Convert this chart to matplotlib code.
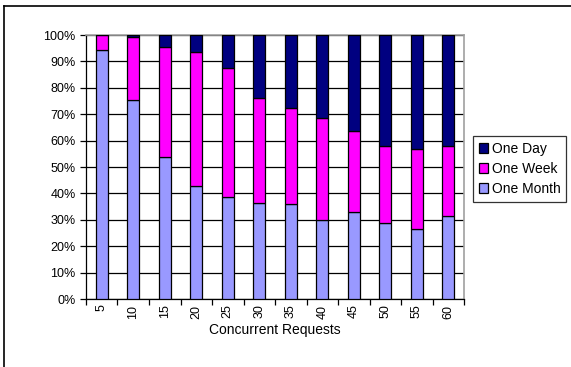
import matplotlib
matplotlib.use("Agg")
import matplotlib.pyplot as plt
import numpy as np
from matplotlib.lines import Line2D

plt.rcParams['font.family'] = ['Liberation Sans', 'DejaVu Sans']

categories = ["5", "10", "15", "20", "25", "30", "35", "40", "45", "50", "55", "60"]
one_month = [94.3, 75.4, 53.8, 42.8, 38.8, 36.4, 35.9, 29.9, 33.0, 28.9, 26.5, 31.3]
one_week = [5.7, 23.7, 41.8, 50.6, 48.6, 39.6, 36.6, 38.5, 30.5, 29.1, 30.4, 26.5]
one_day = [0.0, 0.9, 4.4, 6.6, 12.6, 24.0, 27.5, 31.6, 36.5, 42.0, 43.1, 42.2]
y_ticks = [0, 10, 20, 30, 40, 50, 60, 70, 80, 90, 100]

fig = plt.figure(figsize=(5.71, 3.67), dpi=100)
ax = fig.add_axes([86/571, 1-299/367, (464-86)/571, (299-35)/367])

x = np.arange(len(categories))
w = 0.38
m = np.array(one_month)
wk = np.array(one_week)
d = np.array(one_day)
ax.bar(x, m, w, color='#9999ff', edgecolor='black', linewidth=0.9, label='One Month', zorder=3)
ax.bar(x, wk, w, bottom=m, color='#ff00ff', edgecolor='black', linewidth=0.9, label='One Week', zorder=3)
ax.bar(x, d, w, bottom=m+wk, color='#000080', edgecolor='black', linewidth=0.9, label='One Day', zorder=3)

ax.set_xlim(-0.5, len(categories)-0.5)
ax.set_ylim(0, 100)
ax.set_yticks(y_ticks)
ax.set_yticklabels([f"{t}%" for t in y_ticks], fontsize=9)
ax.yaxis.grid(True, color='black', linewidth=0.9, zorder=0)
ax.set_axisbelow(True)
ax.set_xticks(x)
ax.set_xticklabels(categories, rotation=90, fontsize=9)
ax.tick_params(axis='x', length=0, pad=4)
ax.set_xticks(np.arange(-0.5, len(categories), 1), minor=True)
ax.tick_params(axis='x', which='minor', length=4, direction='out', width=0.9)
ax.tick_params(axis='y', length=4, direction='out', width=0.9)
for s in ['top', 'right']:
    ax.spines[s].set_color('#a0a0a0')
    ax.spines[s].set_linewidth(1.2)
for s in ['left', 'bottom']:
    ax.spines[s].set_color('black')
    ax.spines[s].set_linewidth(0.9)
ax.set_xlabel("Concurrent Requests", fontsize=10, labelpad=3)

handles, labels = ax.get_legend_handles_labels()
leg = fig.legend(handles[::-1], labels[::-1], loc='upper left',
                 bbox_to_anchor=(473/571, 1-136/367), fontsize=10,
                 frameon=True, fancybox=False, edgecolor='black',
                 handlelength=0.7, handleheight=0.7, handletextpad=0.25,
                 borderpad=0.4, labelspacing=0.45, borderaxespad=0)
leg.get_frame().set_linewidth(0.9)

fig.add_artist(Line2D([4/571, 4/571], [0, 1-6/367], color='black', linewidth=1.2, transform=fig.transFigure))
fig.add_artist(Line2D([4/571, 1], [1-6/367, 1-6/367], color='black', linewidth=1.2, transform=fig.transFigure))

fig.savefig("out.png", dpi=100)
